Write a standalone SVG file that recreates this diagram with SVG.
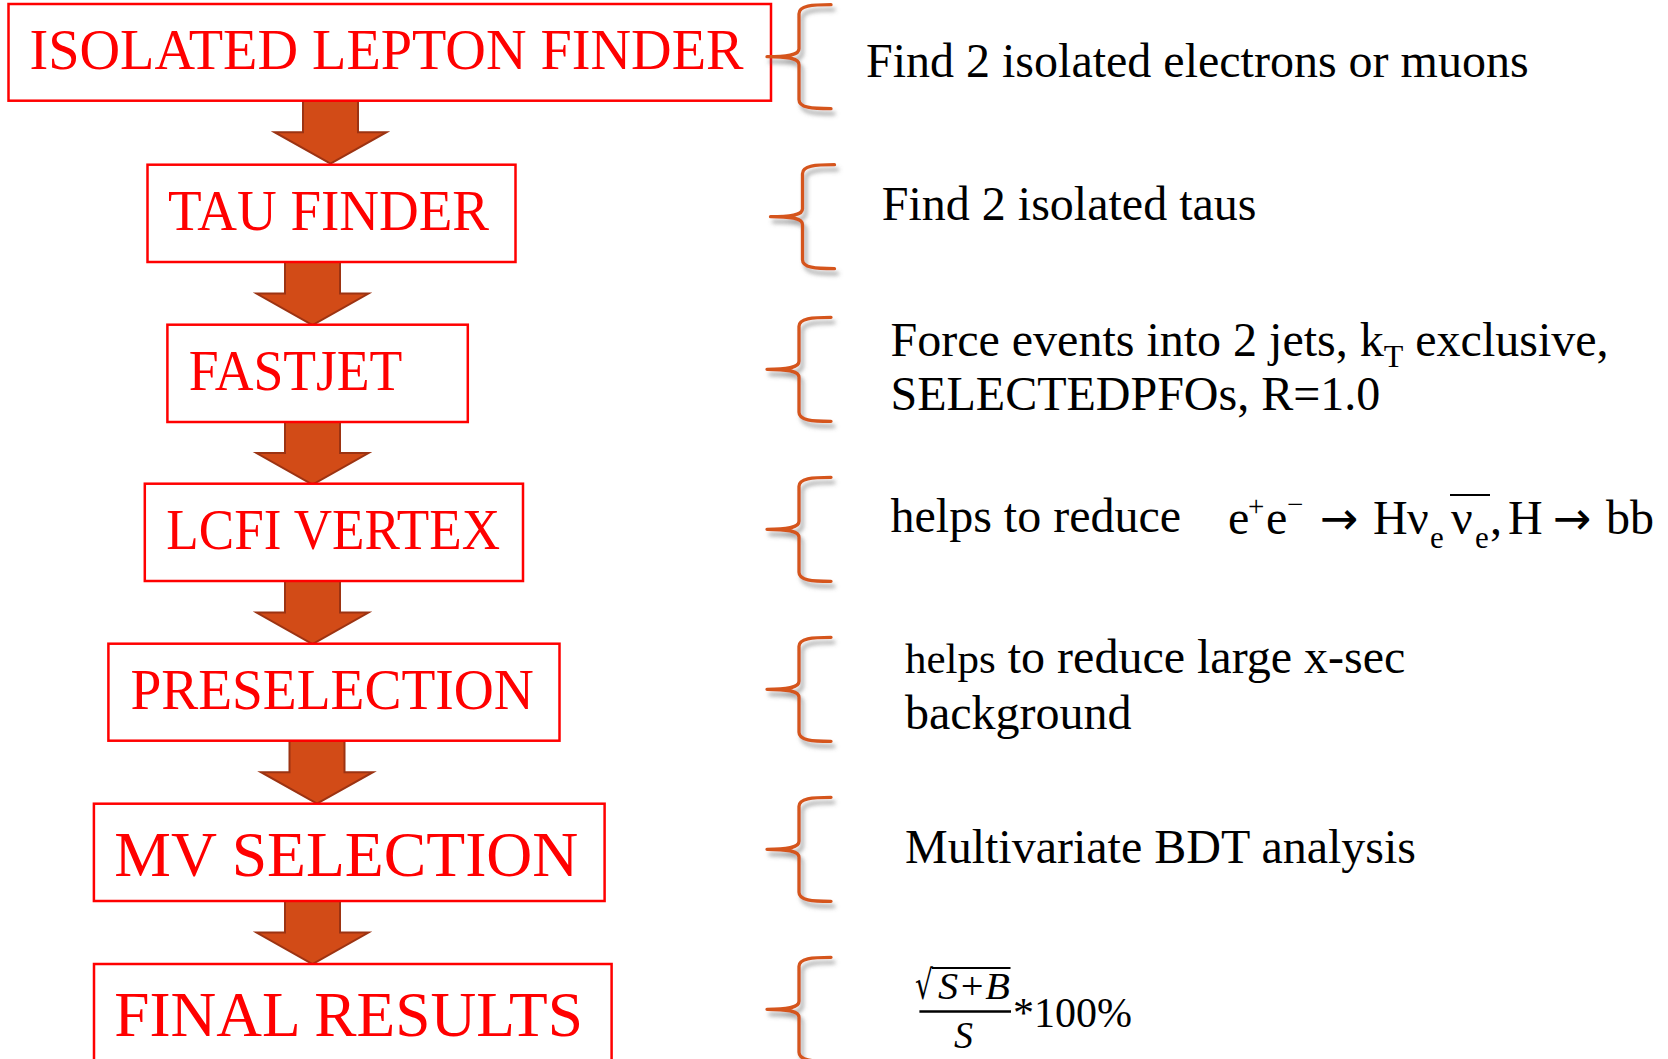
<svg xmlns="http://www.w3.org/2000/svg" xmlns:xlink="http://www.w3.org/1999/xlink" width="1668" height="1059" viewBox="0 0 1668 1059">
  <style>
    .box { fill: #ffffff; stroke: #ff0000; stroke-width: 2.5; }
    .lbl { font-family: "Liberation Serif", "Times New Roman", serif; fill: #ff0000; }
    .note { font-family: "Liberation Serif", "Times New Roman", serif; fill: #000000; }
    .sym { font-family: "DejaVu Sans", sans-serif; }
    .arrow { fill: #d24b17; stroke: #9c3312; stroke-width: 2; stroke-linejoin: miter; }
    .brace { fill: none; stroke: #d5541e; stroke-width: 3.3; stroke-linecap: round; stroke-linejoin: round; }
  </style>
  <defs>
    <!-- block arrow, origin at the top centre of the shaft -->
    <path id="arrow" d="M-27.5,0 L27.5,0 L27.5,31.5 L56,31.5 L0,63 L-56,31.5 L-27.5,31.5 Z"/>
    <!-- left curly brace, origin at the tip x / top y -->
    <path id="brace" d="M64,0 C45,0 32,1 32,9 L32,44 C32,50 23,52 0,52 C23,52 32,54 32,60 L32,95 C32,103 45,104 64,104"/>
    <filter id="shadow" x="-30%" y="-20%" width="160%" height="140%">
      <feDropShadow dx="3" dy="5" stdDeviation="2.2" flood-color="#666666" flood-opacity="0.6"/>
    </filter>
  </defs>

  <rect width="1668" height="1059" fill="#ffffff"/>

  <!-- connectors: block arrows between stages -->
  <g id="connectors">
    <use xlink:href="#arrow" class="arrow" transform="translate(330.5,100.7)"/>
    <use xlink:href="#arrow" class="arrow" transform="translate(312.5,262)"/>
    <use xlink:href="#arrow" class="arrow" transform="translate(312.5,421.5)"/>
    <use xlink:href="#arrow" class="arrow" transform="translate(312.5,581)"/>
    <use xlink:href="#arrow" class="arrow" transform="translate(317,740.7)"/>
    <use xlink:href="#arrow" class="arrow" transform="translate(312.5,901)"/>
  </g>

  <!-- stage boxes -->
  <g id="isolated-lepton-finder">
    <rect class="box" x="8.5" y="4" width="762.5" height="96.7"/>
    <text class="lbl" x="29.5" y="69" font-size="56" textLength="714" lengthAdjust="spacingAndGlyphs">ISOLATED LEPTON FINDER</text>
  </g>
  <g id="tau-finder">
    <rect class="box" x="147.5" y="164.7" width="368" height="97.3"/>
    <text class="lbl" x="168" y="230" font-size="56" textLength="321" lengthAdjust="spacingAndGlyphs">TAU FINDER</text>
  </g>
  <g id="fastjet">
    <rect class="box" x="167.4" y="324.7" width="300.4" height="97.3"/>
    <text class="lbl" x="188.8" y="390.3" font-size="57" textLength="213.6" lengthAdjust="spacingAndGlyphs">FASTJET</text>
  </g>
  <g id="lcfi-vertex">
    <rect class="box" x="144.8" y="483.7" width="378.2" height="97.3"/>
    <text class="lbl" x="166.3" y="548.7" font-size="56" textLength="333.7" lengthAdjust="spacingAndGlyphs">LCFI VERTEX</text>
  </g>
  <g id="preselection">
    <rect class="box" x="108.4" y="643.7" width="451.1" height="97"/>
    <text class="lbl" x="130.4" y="709.3" font-size="56" textLength="403.4" lengthAdjust="spacingAndGlyphs">PRESELECTION</text>
  </g>
  <g id="mv-selection">
    <rect class="box" x="93.9" y="803.7" width="510.7" height="97.3"/>
    <text class="lbl" x="114.3" y="876" font-size="64" textLength="464" lengthAdjust="spacingAndGlyphs">MV SELECTION</text>
  </g>
  <g id="final-results">
    <rect class="box" x="94" y="964" width="517.6" height="100"/>
    <text class="lbl" x="114.3" y="1036" font-size="64" textLength="468.7" lengthAdjust="spacingAndGlyphs">FINAL RESULTS</text>
  </g>

  <!-- braces -->
  <g id="braces" filter="url(#shadow)">
    <use xlink:href="#brace" class="brace" transform="translate(767,4.7)"/>
    <use xlink:href="#brace" class="brace" transform="translate(770.5,164.7)"/>
    <use xlink:href="#brace" class="brace" transform="translate(767,317.3)"/>
    <use xlink:href="#brace" class="brace" transform="translate(767,477.3)"/>
    <use xlink:href="#brace" class="brace" transform="translate(767,637.3)"/>
    <use xlink:href="#brace" class="brace" transform="translate(767,797.3)"/>
    <use xlink:href="#brace" class="brace" transform="translate(767,957.3)"/>
  </g>

  <!-- descriptions -->
  <g id="desc-lepton">
    <text class="note" x="866" y="76.7" font-size="48">Find 2 isolated electrons or muons</text>
  </g>
  <g id="desc-tau">
    <text class="note" x="881.8" y="220" font-size="48">Find 2 isolated taus</text>
  </g>
  <g id="desc-fastjet">
    <text class="note" x="890.5" y="356" font-size="48">Force events into 2 jets, k<tspan font-size="32" dy="11">T</tspan><tspan dy="-11"> exclusive,</tspan></text>
    <text class="note" x="890.5" y="410" font-size="48">SELECTEDPFOs, R=1.0</text>
  </g>
  <g id="desc-vertex">
    <text class="note" x="890.5" y="532" font-size="48">helps to reduce</text>
    <!-- e+e- -> H nu_e nubar_e, H -> bb -->
    <text class="note" y="534" font-size="48"><tspan x="1228">e</tspan><tspan x="1248" y="516" font-size="29">+</tspan><tspan x="1266" y="534">e</tspan><tspan x="1287" y="514" font-size="29">−</tspan><tspan class="sym" x="1320" y="534" font-size="46">→</tspan><tspan x="1373">H</tspan><tspan x="1407">ν</tspan><tspan x="1430" y="548" font-size="31">e</tspan><tspan x="1451" y="534">ν</tspan><tspan x="1475" y="548" font-size="31">e</tspan><tspan x="1490" y="534">,</tspan><tspan x="1508">H</tspan><tspan class="sym" x="1553" font-size="46">→</tspan><tspan x="1606">bb</tspan></text>
    <line x1="1450" y1="495" x2="1490" y2="495" stroke="#000000" stroke-width="2"/>
  </g>
  <g id="desc-preselection">
    <text class="note" x="905" y="672.7" font-size="48"><tspan font-size="43">helps</tspan> to reduce large x-sec</text>
    <text class="note" x="905" y="729.3" font-size="48">background</text>
  </g>
  <g id="desc-mv">
    <text class="note" x="905" y="863.3" font-size="48">Multivariate BDT analysis</text>
  </g>
  <g id="desc-final">
    <!-- (sqrt(S+B) / S) * 100% -->
    <text class="note sym" x="915" y="999" font-size="40" textLength="18" lengthAdjust="spacingAndGlyphs">√</text>
    <text class="note" x="938" y="999" font-size="38" font-style="italic" textLength="72" lengthAdjust="spacingAndGlyphs">S+B</text>
    <line x1="932" y1="968" x2="1010.5" y2="968" stroke="#000000" stroke-width="2"/>
    <line x1="919.4" y1="1011.5" x2="1011" y2="1011.5" stroke="#000000" stroke-width="2.6"/>
    <text class="note" x="954" y="1048" font-size="38" font-style="italic">S</text>
    <text class="note" x="1013" y="1027" font-size="42">*100%</text>
  </g>
</svg>
